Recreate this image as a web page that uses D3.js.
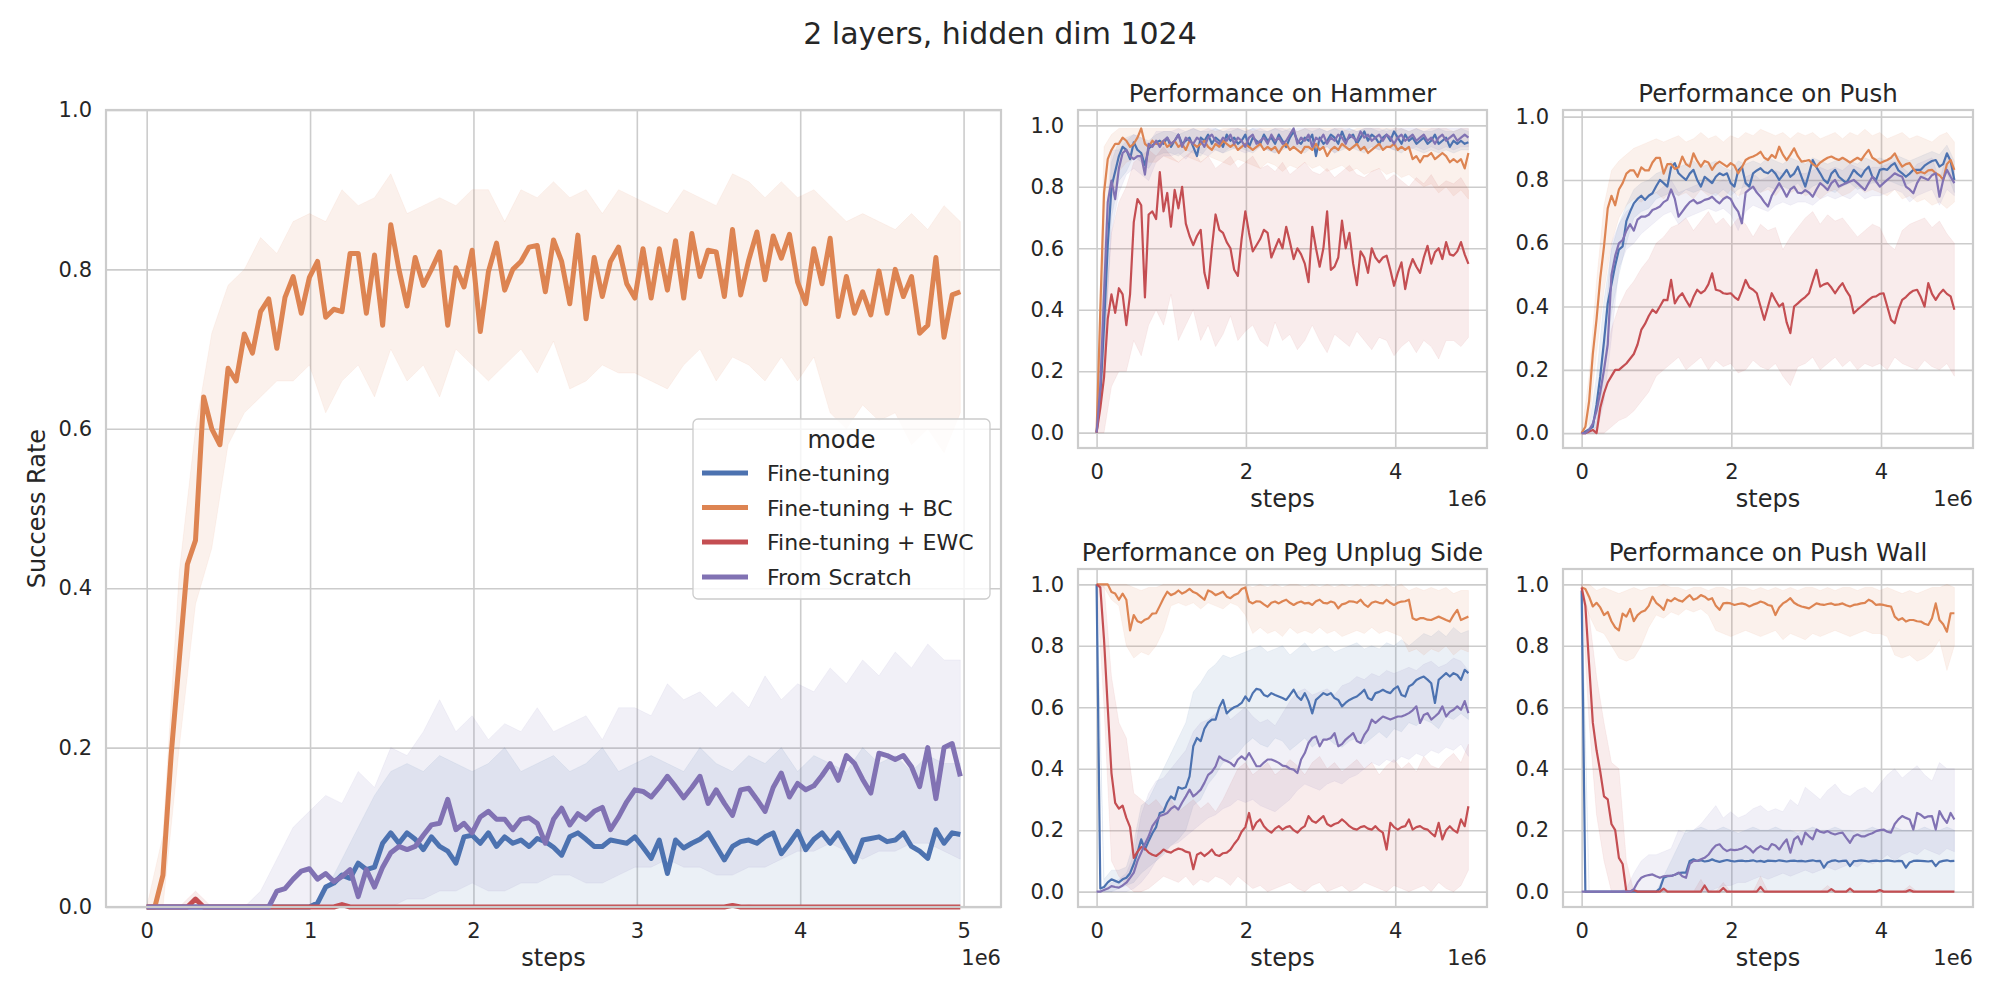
<!DOCTYPE html>
<html><head><meta charset="utf-8">
<script src="https://cdn.jsdelivr.net/npm/d3@7/dist/d3.min.js"></script>
<style>
body{margin:0;background:#fff;}
svg text{font-family:"DejaVu Sans",sans-serif;fill:#262626;}
</style>
</head><body>
<svg id="chart" width="2000" height="1000"></svg>
<script>
// ---------- grids of steps (x values) ----------
const steps = d3.range(101).map(i => i * 49800);      // mean curves
const bandSteps = d3.range(51).map(i => i * 99600);   // confidence bands
const modes = ["Fine-tuning", "Fine-tuning + BC", "Fine-tuning + EWC", "From Scratch"];
const colors = ["#4C72B0", "#DD8452", "#C44E52", "#8172B3"];
const yTickValues = [0, 0.2, 0.4, 0.6, 0.8, 1.0];
const mainXTicks = [0, 1e6, 2e6, 3e6, 4e6, 5e6];
const smallXTicks = [0, 2e6, 4e6];

// ---------- main panel ----------
const mainFT = [0,0,0,0,0,0,0,0,0,0,0,0,0,0,0,0,0,0,0,0,0,
.005,.025,.03,.04,.036,.055,.047,.05,.08,.093,.08,.093,.085,.072,.088,.076,.07,.055,.088,.09,
.08,.093,.076,.088,.08,.084,.076,.086,.082,.075,.065,.088,.093,.085,.076,.076,.084,.082,.08,.088,
.075,.061,.084,.042,.084,.074,.08,.085,.093,.076,.059,.076,.082,.084,.08,.088,.093,.067,.08,.095,
.072,.085,.093,.08,.093,.075,.057,.084,.086,.088,.082,.084,.093,.076,.07,.061,.097,.08,.093,.091];
const mainBC = [0,0,.04,.19,.31,.43,.46,.64,.6,.58,.676,.66,.719,.695,.747,.763,.701,.765,.791,.745,
.79,.81,.74,.75,.747,.82,.82,.745,.818,.73,.856,.8,.754,.815,.78,.8,.822,.73,.802,.778,
.824,.722,.797,.833,.774,.8,.81,.828,.83,.772,.837,.81,.757,.843,.738,.815,.766,.81,.828,.782,
.764,.826,.764,.826,.774,.836,.764,.845,.791,.824,.822,.766,.85,.768,.812,.847,.787,.842,.814,.844,
.784,.757,.826,.782,.839,.741,.791,.745,.772,.743,.798,.745,.8,.766,.791,.72,.73,.815,.715,.768,.772];
const mainEWC = [0,0,0,0,0,0,.01,0,0,0,0,0,0,0,0,0,0,0,0,0,0,0,0,0,.003,0,0,0,0,0,0,0,0,0,0,0,0,0,0,0,
0,0,0,0,0,0,0,0,0,0,0,0,0,0,0,0,0,0,0,0,0,0,0,0,0,0,0,0,0,0,0,0,.002,0,0,0,0,0,0,0,
0,0,0,0,0,0,0,0,0,0,0,0,0,0,0,0,0,0,0,0,0];
const mainFS = [0,0,0,0,0,0,0,0,0,0,0,0,0,0,0,0,
.02,.023,.035,.045,.048,.035,.042,.032,.038,.047,.013,.047,.025,.05,.068,.076,.072,.076,.09,.103,
.105,.135,.097,.105,.093,.113,.12,.11,.11,.097,.11,.112,.105,.08,.11,.124,.103,.117,.11,.12,
.125,.097,.113,.132,.147,.145,.138,.15,.164,.151,.137,.15,.164,.13,.147,.13,.115,.147,.149,.135,
.12,.15,.168,.138,.155,.147,.152,.165,.18,.159,.19,.18,.16,.143,.193,.19,.185,.19,.176,.151,
.2,.136,.2,.205,.164];
const mainFT_lo = [0,0,0,0,0,0,0,0,0,0,0,0,0,0,0,0,0,0,0,0,0,0,0,0,0,0,0,0,0,0,0,0,0,0,0,0,0,0,0,0,0,0,0,0,0,0,0,0,0,0,0];
const mainFT_hi = [0,0,0,0,0,0,0,0,0,0,0,.02,.06,.1,.14,.17,.18,.17,.19,.18,.17,.18,.2,.17,.18,.19,.17,.18,.2,.17,.18,
.19,.18,.17,.2,.18,.17,.19,.18,.2,.17,.19,.18,.17,.2,.18,.19,.17,.19,.18,.18];
const mainBC_lo = [0,0,.2,.38,.45,.58,.62,.64,.66,.66,.68,.62,.66,.68,.64,.7,.66,.68,.64,.7,.68,.66,.68,.7,.67,.71,.65,.66,.68,.67,
.67,.66,.65,.68,.7,.66,.69,.68,.66,.69,.66,.69,.62,.6,.63,.61,.62,.58,.6,.57,.62];
const mainBC_hi = [0,.09,.42,.6,.72,.78,.8,.84,.82,.86,.87,.86,.9,.88,.89,.92,.87,.88,.89,.88,.9,.9,.86,.9,.89,.91,.89,.9,.87,.9,
.89,.88,.87,.9,.89,.88,.92,.91,.89,.91,.89,.9,.88,.86,.87,.86,.85,.87,.85,.88,.86];
const mainEWC_lo = [0,0,0,0,0,0,0,0,0,0,0,0,0,0,0,0,0,0,0,0,0,0,0,0,0,0,0,0,0,0,0,0,0,0,0,0,0,0,0,0,0,0,0,0,0,0,0,0,0,0,0];
const mainEWC_hi = [0,0,0,.02,0,0,0,0,0,0,0,0,.004,0,0,0,0,0,0,0,0,0,0,0,0,0,0,0,0,0,0,0,0,0,0,0,0,.003,0,0,0,0,0,0,0,0,0,0,0,0,0];
const mainFS_lo = [0,0,0,0,0,0,0,0,0,0,0,0,0,0,0,0,
.01,.01,.02,.02,.03,.02,.02,.03,.03,.04,.04,.03,.03,.04,.05,.05,.06,.05,.05,.04,.04,.05,.05,.06,.07,.07,.08,.07,.06,.07,.07,.08,.08,.07,.06];
const mainFS_hi = [0,0,0,0,0,0,0,.02,.06,.1,.12,.14,.13,.17,.15,.2,.19,.22,.26,.22,.24,.21,.23,.22,.25,.22,.23,.24,.21,.25,
.25,.24,.28,.26,.27,.25,.27,.25,.29,.26,.28,.27,.3,.28,.31,.29,.32,.3,.33,.31,.31];

// ---------- Hammer ----------
const hamFT = [0,.12,.35,.61,.8,.85,.9,.93,.92,.89,.945,.92,.91,.87,.925,.935,.945,
.95,.94,.96,.93,.95,.97,.94,.95,.96,.93,.9,.96,.95,.97,.94,.96,.95,.93,.97,.95,
.96,.94,.95,.97,.93,.96,.95,.94,.97,.95,.96,.94,.97,.95,.93,.96,.98,.95,.94,.96,
.95,.97,.9,.96,.94,.95,.97,.96,.94,.98,.95,.96,.97,.94,.96,.98,.95,.97,.96,.94,
.96,.97,.95,.98,.96,.94,.97,.95,.96,.94,.95,.96,.94,.95,.97,.94,.95,.96,.93,.95,
.94,.95,.94,.945];
const hamBC = [0,.4,.78,.89,.92,.94,.94,.96,.95,.93,.94,.96,.99,.94,.93,.95,.94,
.94,.95,.93,.94,.95,.93,.94,.92,.95,.94,.93,.94,.95,.93,.92,.94,.93,.95,.94,.93,
.94,.92,.93,.94,.93,.92,.93,.94,.92,.93,.92,.93,.91,.93,.94,.92,.93,.92,.91,.93,
.93,.92,.94,.92,.93,.9,.92,.93,.92,.94,.93,.92,.93,.94,.92,.93,.91,.92,.93,.94,
.92,.93,.93,.94,.92,.93,.92,.93,.89,.9,.88,.9,.9,.91,.89,.9,.91,.9,.88,.89,
.88,.89,.86,.91];
const hamEWC = [0,.08,.18,.37,.45,.39,.47,.45,.35,.45,
.685,.76,.74,.44,.71,.72,.695,.848,.72,.78,
.67,.79,.73,.8,.68,.64,.61,.64,.66,.52,
.47,.6,.71,.66,.65,.62,.6,.53,.51,.63,
.72,.65,.59,.61,.63,.66,.65,.57,.6,.63,
.6,.67,.62,.565,.6,.58,.55,.49,.67,.6,
.54,.6,.72,.53,.54,.57,.69,.6,.65,.55,
.48,.59,.57,.52,.6,.57,.554,.57,.576,.53,
.478,.52,.554,.467,.53,.565,.54,.52,.57,.608,
.55,.587,.6,.565,.62,.58,.576,.59,.62,.58,.549];
const hamFS = [0,.15,.45,.75,.82,.76,.86,.91,.92,.9,.89,.9,.9,.84,.94,.93,.95,
.93,.95,.96,.94,.95,.97,.93,.96,.95,.94,.96,.95,.93,.96,.97,.95,.94,.96,.95,.97,
.94,.96,.95,.93,.96,.97,.94,.95,.96,.94,.97,.95,.96,.94,.95,.97,.99,.94,.96,.95,
.97,.93,.96,.95,.97,.94,.96,.95,.97,.96,.94,.97,.96,.95,.98,.96,.97,.95,.96,.97,
.95,.97,.96,.94,.96,.97,.95,.96,.97,.95,.96,.97,.95,.96,.94,.96,.97,.95,.96,.97,
.95,.96,.97,.96];
const hamFT_lo = [0,.2,.7,.82,.85,.9,.88,.86,.9,.91,.91,.9,.92,.91,.9,.93,.92,.91,.92,.93,.92,.91,.93,.92,.91,.92,.93,.92,.91,.93,
.92,.93,.91,.92,.93,.92,.91,.93,.92,.93,.92,.91,.93,.92,.91,.92,.91,.92,.91,.92,.92];
const hamFT_hi = [0,.5,.88,.95,.96,.97,.96,.95,.97,.98,.98,.97,.98,.99,.98,.98,.99,.98,.98,.99,.98,.99,.98,.98,.99,.98,.99,.98,.99,.98,
.99,.98,.99,.98,.99,.98,.99,.99,.98,.99,.98,.99,.98,.99,.98,.98,.99,.98,.98,.99,.98];
const hamBC_lo = [0,.5,.76,.85,.88,.89,.9,.88,.88,.9,.89,.88,.9,.89,.88,.9,.89,.88,.87,.89,.88,.87,.86,.88,.87,.85,.87,.86,.88,.86,
.87,.85,.86,.87,.85,.86,.84,.85,.86,.84,.85,.83,.84,.82,.8,.81,.78,.8,.77,.79,.76];
const hamBC_hi = [0,.93,.97,.99,.99,.99,.99,.99,.99,.99,.99,.99,.99,.99,.99,.99,.98,.99,.99,.99,.99,.98,.99,.99,.99,.99,.99,.98,.99,.99,
.99,.99,.99,.99,.98,.99,.99,.99,.99,.99,.99,.99,.98,.99,.99,.99,.99,.99,.98,.99,.99];
const hamEWC_lo = [0,0,.15,.2,.2,.3,.25,.35,.4,.35,.45,.3,.35,.4,.3,.35,.28,.32,.38,.3,.33,.35,.3,.28,.36,.3,.32,.27,.3,.35,
.3,.26,.32,.3,.28,.33,.3,.27,.31,.3,.25,.28,.3,.26,.3,.28,.24,.3,.3,.28,.31];
const hamEWC_hi = [0,.35,.65,.75,.8,.88,.9,.92,.9,.93,.9,.88,.9,.92,.88,.9,.86,.88,.9,.86,.88,.9,.86,.87,.85,.88,.84,.86,.88,.85,
.84,.86,.83,.85,.87,.84,.83,.85,.86,.82,.84,.82,.8,.83,.81,.84,.8,.82,.81,.83,.79];
const hamFS_lo = [0,.25,.65,.78,.84,.86,.84,.82,.88,.9,.9,.91,.89,.92,.91,.9,.92,.91,.93,.92,.91,.92,.93,.92,.91,.93,.92,.93,.92,.93,
.92,.93,.91,.93,.92,.93,.92,.93,.92,.93,.92,.93,.92,.93,.92,.93,.92,.93,.92,.93,.93];
const hamFS_hi = [0,.6,.92,.92,.95,.97,.96,.94,.98,.98,.98,.99,.98,.99,.98,.99,.99,.98,.99,.99,.98,.99,.99,.98,.99,.99,.98,.99,.99,.99,
.99,.98,.99,.99,.99,.98,.99,.99,.99,.98,.99,.99,.99,.99,.98,.99,.99,.99,.99,.99,.99];

// ---------- Push ----------
const pushFT = [0,.005,.012,.02,.09,.18,.29,.41,.47,.53,
.58,.59,.67,.7,.726,.74,.75,.737,.75,.758,
.78,.8,.79,.779,.84,.853,.821,.81,.8,.82,
.832,.8,.779,.81,.8,.79,.81,.821,.815,.821,
.79,.779,.83,.842,.79,.779,.821,.83,.837,.825,
.821,.832,.82,.8,.815,.832,.81,.82,.842,.81,
.779,.82,.863,.84,.821,.8,.79,.82,.832,.81,
.8,.79,.81,.832,.82,.81,.83,.842,.81,.8,
.832,.835,.832,.845,.853,.83,.821,.81,.82,.832,
.832,.832,.845,.853,.86,.863,.842,.85,.884,.86,.8];
const pushBC = [0,.02,.1,.25,.36,.49,.59,.71,.75,.72,
.77,.79,.82,.83,.83,.81,.84,.83,.83,.855,
.87,.87,.82,.85,.85,.835,.84,.874,.85,.842,
.884,.86,.842,.86,.855,.832,.85,.858,.85,.842,
.853,.845,.821,.84,.863,.87,.874,.88,.889,.87,
.863,.879,.87,.905,.88,.863,.88,.9,.875,.858,
.86,.863,.85,.842,.855,.863,.87,.874,.868,.863,
.87,.863,.855,.863,.87,.863,.88,.895,.87,.863,
.853,.858,.863,.87,.884,.86,.842,.85,.853,.835,
.821,.825,.821,.83,.832,.821,.815,.8,.85,.863,.832];
const pushEWC = [0,0,.005,.01,0,.08,.126,.16,.18,.2,
.2,.21,.22,.235,.25,.28,.326,.345,.37,.39,
.38,.4,.421,.42,.484,.41,.43,.442,.42,.4,
.43,.453,.442,.45,.47,.505,.453,.45,.442,.44,
.442,.43,.421,.45,.484,.46,.453,.442,.4,.358,
.4,.442,.42,.4,.41,.35,.316,.4,.41,.421,
.43,.442,.48,.516,.463,.47,.474,.46,.442,.46,
.474,.45,.432,.379,.39,.4,.41,.421,.43,.432,
.44,.442,.4,.358,.347,.39,.421,.43,.442,.45,
.453,.43,.4,.474,.44,.421,.44,.453,.44,.432,.39];
const pushFS = [0,0,.01,.03,.07,.13,.2,.28,.5,.56,
.6,.61,.64,.66,.64,.675,.684,.684,.69,.705,
.71,.716,.73,.737,.77,.74,.684,.7,.716,.73,
.737,.726,.73,.737,.74,.747,.735,.726,.74,.747,
.74,.716,.7,.663,.76,.77,.779,.76,.747,.73,
.716,.75,.77,.79,.77,.747,.77,.779,.76,.758,
.768,.76,.747,.77,.79,.78,.768,.79,.8,.779,
.785,.79,.795,.8,.79,.779,.768,.79,.81,.795,
.779,.79,.8,.81,.821,.815,.81,.779,.77,.758,
.79,.81,.805,.8,.815,.821,.747,.8,.832,.81,.79];
const pushFT_lo = [0,0,.02,.18,.38,.5,.6,.68,.7,.71,.74,.75,.76,.75,.77,.76,.77,.76,.75,.77,.75,.77,.78,.77,.76,.78,.77,.78,.77,.79,
.76,.78,.79,.77,.76,.78,.79,.77,.78,.79,.79,.8,.79,.78,.79,.8,.81,.82,.81,.82,.76];
const pushFT_hi = [0,.02,.18,.42,.58,.66,.72,.77,.79,.8,.82,.83,.86,.84,.85,.86,.84,.85,.86,.84,.83,.86,.85,.86,.85,.87,.86,.85,.87,.86,
.85,.87,.86,.85,.86,.87,.86,.85,.87,.86,.87,.86,.88,.87,.86,.87,.88,.89,.88,.91,.86];
const pushBC_lo = [0,.03,.25,.45,.6,.68,.72,.74,.73,.75,.76,.74,.77,.75,.76,.74,.77,.75,.76,.74,.77,.75,.76,.78,.76,.77,.75,.78,.76,.77,
.75,.76,.74,.76,.77,.75,.76,.78,.76,.77,.76,.75,.77,.74,.75,.73,.74,.72,.73,.71,.73];
const pushBC_hi = [0,.18,.48,.72,.83,.86,.88,.9,.91,.92,.93,.92,.93,.94,.92,.93,.95,.93,.94,.92,.94,.93,.95,.94,.96,.95,.94,.95,.93,.95,
.94,.95,.93,.94,.95,.93,.95,.94,.96,.94,.95,.93,.94,.95,.93,.94,.93,.92,.94,.95,.92];
const pushEWC_lo = [0,0,0,0,.02,.04,.05,.07,.1,.13,.18,.2,.22,.24,.2,.22,.24,.2,.23,.21,.22,.19,.2,.23,.21,.2,.22,.18,.15,.21,
.22,.24,.2,.22,.24,.21,.23,.2,.22,.21,.22,.2,.24,.22,.21,.2,.23,.21,.2,.22,.18];
const pushEWC_hi = [0,0,.02,.2,.33,.4,.45,.48,.52,.55,.6,.62,.65,.66,.68,.64,.67,.7,.66,.68,.65,.68,.66,.62,.66,.64,.65,.58,.62,.65,
.68,.7,.66,.69,.67,.68,.65,.62,.64,.66,.65,.6,.58,.64,.66,.67,.68,.65,.67,.63,.6];
const pushFS_lo = [0,0,0,.1,.3,.52,.58,.6,.63,.65,.67,.69,.7,.66,.68,.69,.7,.71,.7,.71,.69,.64,.7,.72,.71,.7,.72,.73,.72,.73,
.73,.72,.74,.75,.74,.75,.74,.76,.74,.75,.75,.76,.77,.76,.73,.75,.76,.77,.72,.77,.75];
const pushFS_hi = [0,.01,.04,.3,.6,.66,.7,.72,.74,.75,.76,.78,.8,.76,.77,.78,.79,.8,.79,.8,.79,.74,.81,.82,.8,.81,.83,.82,.81,.82,
.82,.83,.84,.83,.84,.83,.85,.84,.83,.84,.84,.85,.86,.84,.82,.85,.86,.87,.8,.88,.83];

// ---------- Peg Unplug Side ----------
const pegFT = [1,.01,.015,.03,.04,.035,.03,.04,.045,.06,
.09,.127,.17,.137,.165,.19,.21,.256,.26,.29,
.31,.3,.34,.335,.34,.375,.473,.5,.49,.53,
.55,.56,.56,.6,.624,.58,.592,.6,.605,.614,
.635,.62,.646,.66,.657,.64,.635,.646,.64,.635,
.63,.624,.64,.657,.635,.624,.646,.62,.58,.624,
.635,.646,.64,.646,.63,.624,.603,.615,.624,.63,
.635,.645,.657,.63,.624,.646,.65,.657,.65,.646,
.66,.668,.64,.635,.668,.675,.689,.695,.7,.69,
.678,.614,.689,.7,.711,.7,.711,.705,.689,.722,.711];
const pegBC = [1,1,1,1,.975,.97,.95,.97,.95,.85,
.9,.88,.875,.885,.89,.905,.906,.93,.955,.976,
.965,.97,.98,.97,.976,.985,.975,.97,.96,.95,
.98,.975,.965,.97,.976,.96,.955,.965,.97,.985,
.99,.944,.938,.945,.944,.935,.927,.94,.944,.938,
.945,.95,.94,.933,.94,.944,.938,.94,.933,.945,
.95,.94,.938,.944,.94,.922,.935,.938,.945,.944,
.94,.95,.935,.927,.94,.944,.94,.938,.95,.94,
.933,.94,.944,.945,.95,.89,.884,.89,.89,.885,
.884,.89,.895,.89,.884,.879,.9,.917,.884,.89,.895];
const pegEWC = [1,.99,.82,.6,.386,.289,.27,.28,.24,.21,
.11,.13,.145,.14,.127,.12,.116,.125,.137,.13,
.127,.135,.14,.137,.13,.127,.073,.12,.127,.116,
.125,.137,.12,.116,.125,.127,.137,.155,.17,.195,
.21,.256,.202,.225,.235,.213,.2,.192,.205,.213,
.202,.21,.213,.2,.192,.205,.213,.246,.23,.224,
.235,.246,.22,.213,.22,.224,.235,.225,.213,.205,
.202,.21,.213,.205,.202,.213,.2,.192,.137,.224,
.21,.202,.21,.213,.235,.202,.21,.213,.205,.202,
.19,.18,.224,.17,.2,.213,.2,.192,.235,.213,.278];
const pegFS = [0,0,.005,.01,.018,.015,.013,.02,.029,.045,
.062,.1,.127,.155,.18,.213,.23,.246,.25,.256,
.27,.278,.267,.29,.31,.332,.31,.32,.332,.354,
.38,.39,.408,.44,.43,.425,.419,.408,.43,.44,
.43,.451,.43,.408,.408,.42,.43,.43,.425,.419,
.41,.408,.4,.397,.386,.43,.451,.484,.5,.505,
.473,.495,.495,.5,.516,.473,.48,.495,.505,.516,
.49,.484,.51,.527,.56,.549,.56,.57,.565,.56,
.565,.57,.57,.575,.581,.59,.603,.549,.575,.581,
.56,.57,.581,.603,.57,.585,.592,.603,.592,.62,.581];
const pegFT_lo = [1,0,0,.01,.02,.03,.06,.08,.1,.12,.15,.17,.2,.28,.3,.35,.38,.42,.43,.45,.48,.5,.48,.47,.5,.49,.46,.48,.5,.47,
.49,.5,.48,.47,.49,.5,.48,.5,.52,.5,.53,.52,.55,.54,.56,.55,.53,.57,.56,.58,.56];
const pegFT_hi = [1,.04,.07,.07,.08,.16,.28,.3,.35,.4,.45,.5,.55,.65,.68,.72,.74,.77,.76,.77,.78,.79,.8,.78,.79,.8,.77,.79,.81,.78,
.79,.8,.78,.79,.8,.81,.79,.8,.79,.81,.8,.82,.8,.82,.84,.83,.85,.83,.86,.84,.85];
const pegBC_lo = [1,.99,.95,.93,.8,.76,.78,.77,.8,.85,.93,.94,.93,.94,.92,.94,.93,.92,.94,.93,.9,.84,.86,.84,.85,.83,.86,.84,.85,.84,
.86,.84,.85,.83,.84,.85,.84,.86,.84,.85,.84,.83,.78,.79,.77,.79,.78,.8,.77,.79,.78];
const pegBC_hi = [1,1,1,1,1,.99,.98,.99,.99,1,1,1,1,1,1,1,1,1,1,1,1,.99,1,.99,1,.99,1,1,.99,1,
.99,1,.99,1,.99,1,.99,1,.99,1,.99,1,.98,.99,.98,.99,.98,.99,.97,.98,.98];
const pegEWC_lo = [1,.6,.1,.05,.02,0,0,.01,.03,.05,.04,.03,.05,.02,.04,.03,.05,.04,.02,.05,.03,.01,.02,0,.01,.02,.03,.01,0,.02,
.03,0,.01,.02,0,.01,.03,.02,.01,0,.02,.01,0,.01,.02,0,.03,.01,0,.02,.07];
const pegEWC_hi = [1,1,.7,.55,.5,.32,.3,.28,.3,.27,.3,.26,.28,.3,.27,.29,.26,.3,.35,.4,.42,.38,.4,.42,.38,.4,.43,.41,.38,.42,
.44,.4,.42,.39,.41,.43,.4,.42,.38,.41,.43,.4,.42,.39,.44,.41,.4,.43,.45,.42,.48];
const pegFS_lo = [0,0,0,0,0,.01,.03,.06,.1,.13,.15,.16,.18,.2,.22,.24,.25,.27,.28,.3,.29,.3,.28,.27,.26,.28,.3,.33,.35,.34,
.33,.35,.36,.35,.37,.38,.4,.42,.41,.43,.42,.44,.43,.45,.44,.46,.45,.47,.46,.48,.44];
const pegFS_hi = [0,.01,.03,.04,.06,.12,.25,.32,.36,.37,.4,.43,.46,.52,.55,.56,.58,.6,.56,.58,.6,.57,.55,.56,.54,.58,.62,.65,.66,.64,
.65,.66,.64,.67,.68,.7,.69,.71,.7,.72,.71,.72,.73,.72,.74,.75,.73,.74,.76,.75,.72];

// ---------- Push Wall ----------
const pwFT = [.98,0,0,0,0,0,0,0,0,0,0,0,0,0,0,0,0,0,0,0,0,
.01,.045,.05,.051,.055,.06,.062,.062,.1,.105,
.1,.102,.098,.1,.105,.1,.097,.1,.103,.1,
.098,.1,.101,.099,.1,.102,.098,.1,.097,.101,
.1,.099,.102,.1,.098,.1,.101,.099,.1,.098,
.1,.102,.099,.1,.078,.095,.1,.102,.098,.1,
.101,.083,.099,.1,.102,.1,.098,.1,.101,.099,
.1,.102,.1,.098,.1,.099,.078,.095,.1,.101,
.1,.099,.098,.1,.083,.097,.1,.102,.099,.1];
const pwBC = [.99,.985,.96,.928,.94,.925,.9,.91,.88,.86,
.85,.905,.895,.92,.88,.9,.91,.915,.93,.96,
.94,.93,.917,.95,.945,.955,.948,.944,.955,.965,
.95,.955,.965,.96,.95,.955,.93,.917,.938,.94,
.938,.933,.936,.938,.935,.928,.934,.938,.944,.94,
.933,.93,.9,.925,.938,.945,.955,.94,.933,.928,
.925,.922,.93,.938,.935,.933,.936,.938,.933,.935,
.938,.932,.928,.933,.935,.938,.94,.95,.944,.933,
.935,.933,.93,.928,.895,.884,.89,.879,.884,.884,
.88,.879,.872,.868,.89,.938,.884,.87,.846,.906,.906];
const pwEWC = [.99,.93,.74,.55,.46,.39,.31,.3,.22,.2,
.11,.09,0,0,.005,0,0,0,0,0,
0,0,.01,0,0,0,0,0,0,0,
0,0,0,.02,0,0,0,0,.012,0,
0,0,0,0,0,0,0,0,.015,0,
0,0,0,0,0,0,0,0,0,0,
0,0,0,0,0,0,0,.008,0,0,
0,0,.01,0,0,0,0,0,0,0,
.005,0,0,0,0,0,0,0,.005,0,
0,0,0,0,0,0,0,0,0,0,0];
const pwFS = [0,0,0,0,0,0,0,0,0,0,0,0,0,0,
.008,.03,.045,.051,.054,.056,
.05,.045,.05,.051,.051,.055,.062,.05,.045,.09,
.1,.1,.105,.11,.12,.137,.15,.154,.14,.132,
.137,.135,.137,.14,.148,.14,.127,.14,.148,.14,
.137,.155,.15,.137,.155,.17,.127,.17,.18,.154,
.192,.18,.17,.202,.195,.192,.197,.19,.186,.19,
.192,.175,.159,.18,.186,.18,.18,.186,.19,.197,
.2,.202,.195,.192,.22,.235,.246,.24,.235,.202,
.256,.25,.24,.245,.246,.202,.262,.24,.224,.256,.235];
const pwFT_lo = [.96,0,0,0,0,0,0,0,0,0,0,0,0,0,0,0,0,0,0,0,0,0,0,0,0,0,0,0,0,0,0,0,0,0,0,0,0,0,0,0,0,0,0,0,0,0,0,0,0,0,0];
const pwFT_hi = [1,0,0,0,0,0,0,0,0,0,0,.05,.1,.15,.2,.2,.21,.2,.2,.21,.2,.19,.2,.21,.2,.2,.21,.2,.2,.19,
.2,.21,.2,.2,.21,.2,.2,.19,.2,.21,.2,.2,.21,.2,.2,.2,.21,.2,.2,.21,.2];
const pwBC_lo = [.97,.9,.85,.84,.8,.76,.75,.76,.8,.86,.9,.89,.91,.9,.92,.91,.92,.9,.85,.84,.83,.84,.85,.84,.83,.84,.85,.82,.84,.83,
.82,.84,.83,.84,.85,.84,.83,.84,.85,.84,.84,.83,.77,.76,.77,.75,.76,.78,.82,.72,.8];
const pwBC_hi = [1,1,.98,.99,.98,.97,.98,.99,.98,.99,.99,1,.99,.99,.98,.99,.99,.98,.99,.99,.98,.99,.99,.98,.99,.98,.99,.98,.99,.98,
.99,.99,.98,.99,.98,.99,.99,.98,.99,.99,.98,.99,.98,.97,.98,.97,.98,.99,.99,1,.99];
const pwEWC_lo = [.97,.55,.25,.1,0,0,0,0,0,0,0,0,0,0,0,0,0,0,0,0,0,0,0,0,0,0,0,0,0,0,0,0,0,0,0,0,0,0,0,0,0,0,0,0,0,0,0,0,0,0,0];
const pwEWC_hi = [1,.9,.7,.55,.42,.4,.1,0,0,0,0,0,0,0,0,0,.04,0,0,.03,0,0,0,0,.05,0,0,0,0,0,0,0,0,.02,0,0,0,0,0,0,0,0,0,0,.02,0,0,0,0,0,0];
const pwFS_lo = [0,0,0,0,0,0,0,0,0,0,0,0,0,0,0,0,0,0,
.01,.02,.02,.03,.03,.04,.05,.04,.05,.06,.05,.06,.07,.06,.07,.08,.07,.08,.09,.08,.1,.09,.1,.12,.1,.12,.13,.12,.14,.13,.12,.14,.13];
const pwFS_hi = [0,0,0,0,0,0,.01,.06,.1,.12,.12,.13,.14,.2,.19,.2,.22,.25,.28,.24,.26,.24,.25,.27,.28,.26,.27,.26,.3,.28,
.34,.32,.3,.33,.35,.32,.31,.33,.34,.32,.35,.38,.4,.37,.39,.41,.38,.36,.42,.4,.4];

// ---------- panel definitions ----------
const panels = [
  {x0:106, x1:1001, y0:110, y1:907, yDom:[0,1], xTicks:mainXTicks, lw:5, title:null, main:true,
   series:[[mainFT,mainFT_lo,mainFT_hi],[mainBC,mainBC_lo,mainBC_hi],[mainEWC,mainEWC_lo,mainEWC_hi],[mainFS,mainFS_lo,mainFS_hi]]},
  {x0:1078, x1:1487, y0:110, y1:448, yDom:[-0.05,1.05], xTicks:smallXTicks, lw:2.2, title:"Performance on Hammer",
   series:[[hamFT,hamFT_lo,hamFT_hi],[hamBC,hamBC_lo,hamBC_hi],[hamEWC,hamEWC_lo,hamEWC_hi],[hamFS,hamFS_lo,hamFS_hi]]},
  {x0:1563, x1:1973, y0:110, y1:448, yDom:[-0.047,1.021], xTicks:smallXTicks, lw:2.2, title:"Performance on Push",
   series:[[pushFT,pushFT_lo,pushFT_hi],[pushBC,pushBC_lo,pushBC_hi],[pushEWC,pushEWC_lo,pushEWC_hi],[pushFS,pushFS_lo,pushFS_hi]]},
  {x0:1078, x1:1487, y0:569, y1:907, yDom:[-0.05,1.05], xTicks:smallXTicks, lw:2.2, title:"Performance on Peg Unplug Side",
   series:[[pegFT,pegFT_lo,pegFT_hi],[pegBC,pegBC_lo,pegBC_hi],[pegEWC,pegEWC_lo,pegEWC_hi],[pegFS,pegFS_lo,pegFS_hi]]},
  {x0:1563, x1:1973, y0:569, y1:907, yDom:[-0.05,1.05], xTicks:smallXTicks, lw:2.2, title:"Performance on Push Wall",
   series:[[pwFT,pwFT_lo,pwFT_hi],[pwBC,pwBC_lo,pwBC_hi],[pwEWC,pwEWC_lo,pwEWC_hi],[pwFS,pwFS_lo,pwFS_hi]]}
];

const svg = d3.select("#chart");
svg.append("rect").attr("width",2000).attr("height",1000).attr("fill","#fff");

svg.append("text").attr("x",1000).attr("y",44).attr("text-anchor","middle")
  .style("font-size","30px").text("2 layers, hidden dim 1024");

const xDom = [-0.249e6, 5.229e6];

panels.forEach(p => {
  const x = d3.scaleLinear().domain(xDom).range([p.x0, p.x1]);
  const y = d3.scaleLinear().domain(p.yDom).range([p.y1, p.y0]);
  const g = svg.append("g");

  // axes with grid lines
  const yAxis = d3.axisLeft(y).tickValues(yTickValues).tickFormat(d3.format(".1f"))
    .tickSize(-(p.x1 - p.x0)).tickPadding(14);
  const gy = g.append("g").attr("transform", `translate(${p.x0},0)`).call(yAxis);
  const xAxis = d3.axisBottom(x).tickValues(p.xTicks).tickFormat(d => String(d / 1e6))
    .tickSize(-(p.y1 - p.y0)).tickPadding(16);
  const gx = g.append("g").attr("transform", `translate(0,${p.y1})`).call(xAxis);
  [gx, gy].forEach(a => {
    a.select(".domain").remove();
    a.selectAll(".tick line").attr("stroke", "#cccccc").attr("stroke-width", 1.6);
    a.selectAll(".tick text").attr("fill", "#262626").style("font-size", "21px")
      .style("font-family", '"DejaVu Sans", sans-serif');
    a.attr("font-family", null).attr("font-size", null);
  });

  // confidence bands
  p.series.forEach((s, k) => {
    const area = d3.area().x((d, i) => x(bandSteps[i])).y0(d => y(d)).y1((d, i) => y(s[2][i]));
    g.append("path").datum(s[1]).attr("d", area)
      .attr("fill", colors[k]).attr("fill-opacity", 0.11)
      .attr("stroke", colors[k]).attr("stroke-opacity", 0.07).attr("stroke-width", 1);
  });
  // mean lines
  p.series.forEach((s, k) => {
    const line = d3.line().x((d, i) => x(steps[i])).y(d => y(d));
    g.append("path").datum(s[0]).attr("d", line).attr("fill", "none")
      .attr("stroke", colors[k]).attr("stroke-width", p.lw)
      .attr("stroke-linejoin", "round").attr("stroke-linecap", "butt");
  });
  // frame
  g.append("rect").attr("x", p.x0).attr("y", p.y0).attr("width", p.x1 - p.x0).attr("height", p.y1 - p.y0)
    .attr("fill", "none").attr("stroke", "#cccccc").attr("stroke-width", 2.2);

  // labels
  g.append("text").attr("x", (p.x0 + p.x1) / 2).attr("y", p.y1 + 58.5).attr("text-anchor", "middle")
    .style("font-size", "24px").text("steps");
  g.append("text").attr("x", p.x1).attr("y", p.y1 + 58).attr("text-anchor", "end")
    .style("font-size", "21px").text("1e6");
  if (p.title) {
    g.append("text").attr("x", (p.x0 + p.x1) / 2).attr("y", p.y0 - 8.5).attr("text-anchor", "middle")
      .style("font-size", "24.5px").text(p.title);
  }
  if (p.main) {
    g.append("text").attr("transform", `translate(37,${(p.y0 + p.y1) / 2}) rotate(-90)`)
      .attr("text-anchor", "middle").attr("dy", "0.35em").style("font-size", "24px").text("Success Rate");
    // legend
    const lg = g.append("g");
    lg.append("rect").attr("x", 693).attr("y", 419).attr("width", 297).attr("height", 180).attr("rx", 5)
      .attr("fill", "#fff").attr("fill-opacity", 0.8).attr("stroke", "#cccccc").attr("stroke-width", 1.3);
    lg.append("text").attr("x", 841.5).attr("y", 447.5).attr("text-anchor", "middle")
      .style("font-size", "24px").text("mode");
    const ly = [473, 507.5, 542, 577];
    modes.forEach((m, k) => {
      lg.append("line").attr("x1", 702).attr("x2", 748).attr("y1", ly[k]).attr("y2", ly[k])
        .attr("stroke", colors[k]).attr("stroke-width", 5);
      lg.append("text").attr("x", 767).attr("y", ly[k] + 8).style("font-size", "22px").text(m);
    });
  }
});
</script>
</body></html>
